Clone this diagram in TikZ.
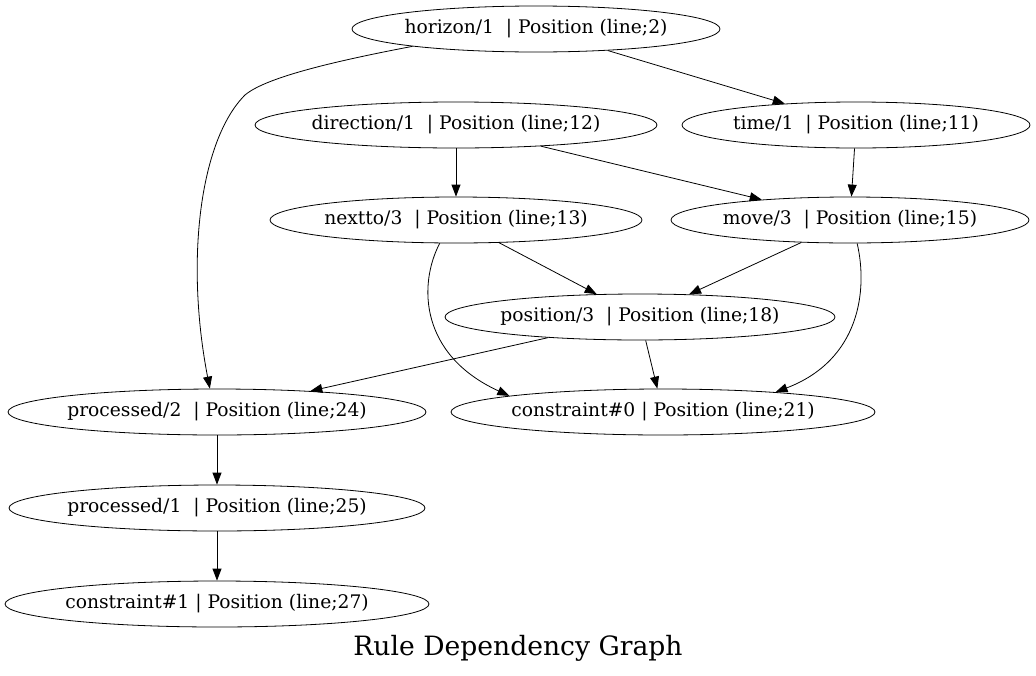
\documentclass[tikz,border=0pt]{standalone}
\usepackage{fontspec}
\setmainfont{DejaVu Serif}
\usetikzlibrary{shapes.geometric,arrows.meta}
\begin{document}
\begin{tikzpicture}[x=1pt,y=-1pt,
  nd/.style={draw,ellipse,inner ysep=0pt,inner xsep=-40pt,line width=0.8pt,minimum height=46pt,font=\fontsize{18.7}{20}\selectfont},
  edge/.style={-{Triangle[length=12pt,width=9pt]},line width=0.8pt}]
\useasboundingbox (0,0) rectangle (1036,675);
\node[nd,minimum width=368pt] (horizon) at (536,29) {horizon/1\ \ | Position (line;2)};
\node[nd,minimum width=402pt] (direction) at (456,125) {direction/1\ \ | Position (line;12)};
\node[nd,minimum width=348pt] (time) at (856,125) {time/1\ \ | Position (line;11)};
\node[nd,minimum width=372pt] (nextto) at (456,220) {nextto/3\ \ | Position (line;13)};
\node[nd,minimum width=358pt] (move) at (850,220) {move/3\ \ | Position (line;15)};
\node[nd,minimum width=390pt] (position) at (640,317) {position/3\ \ | Position (line;18)};
\node[nd,minimum width=418pt] (processed2) at (217,412) {processed/2\ \ | Position (line;24)};
\node[nd,minimum width=424pt] (constraint0) at (663,412) {constraint\#0 | Position (line;21)};
\node[nd,minimum width=416pt] (processed1) at (217,508) {processed/1\ \ | Position (line;25)};
\node[nd,minimum width=424pt] (constraint1) at (217,604) {constraint\#1 | Position (line;27)};
\node[font=\fontsize{26.6}{28}\selectfont] (title) at (518,648) {Rule Dependency Graph};
\draw[edge] (horizon.188) .. controls (330,62) and (265,78) .. (245,95) .. controls (200,140) and (185,260) .. (processed2.107);
\draw[edge] (horizon) -- (time);
\draw[edge] (direction) -- (nextto);
\draw[edge] (direction.-14) -- (move.167);
\draw[edge] (time) -- (move);
\draw[edge] (nextto) -- (position);
\draw[edge] (nextto.235) .. controls (418,285) and (420,355) .. (constraint0.174);
\draw[edge] (move) -- (position);
\draw[edge] (move.287) .. controls (868,290) and (860,360) .. (constraint0.10);
\draw[edge] (position) -- (processed2);
\draw[edge] (position) -- (constraint0);
\draw[edge] (processed2) -- (processed1);
\draw[edge] (processed1) -- (constraint1);
\end{tikzpicture}
\end{document}
